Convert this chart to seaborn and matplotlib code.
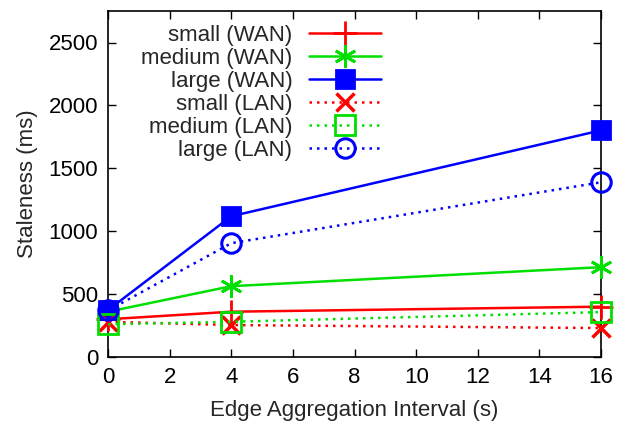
import numpy as np
import pandas as pd
import matplotlib
matplotlib.use("Agg")
import matplotlib.pyplot as plt
import seaborn as sns

# data
intervals = [0, 4, 16]
small_wan = [300, 360, 400]
medium_wan = [360, 563, 714]
large_wan = [373, 1119, 1802]
small_lan = [280, 254, 230]
medium_lan = [260, 280, 357]
large_lan = [370, 905, 1389]

labels = ["small (WAN)", "medium (WAN)", "large (WAN)",
          "small (LAN)", "medium (LAN)", "large (LAN)"]
values = [small_wan, medium_wan, large_wan, small_lan, medium_lan, large_lan]

sns.set_style("ticks")
plt.rcParams['font.family'] = ['Liberation Sans', 'DejaVu Sans']

red, green, blue = "#ff0000", "#00e000", "#0000ff"
dotted = (0, (1.0, 2.0))
styles = [
    dict(color=red, linestyle="-", marker="+", markersize=17, mew=2),
    dict(color=green, linestyle="-", marker=(6, 2, 0), markersize=16, mew=2),
    dict(color=blue, linestyle="-", marker="s", markersize=13, mew=2),
    dict(color=red, linestyle=dotted, marker="x", markersize=13, mew=2.5),
    dict(color=green, linestyle=dotted, marker="s", markersize=14, mew=2,
         markerfacecolor="none"),
    dict(color=blue, linestyle=dotted, marker="o", markersize=14, mew=2.2,
         markerfacecolor="none"),
]

fig = plt.figure(figsize=(6.21, 4.25), dpi=100)
ax = fig.add_axes([0.174, 0.16, 0.794, 0.814])

for lab, vals, st in zip(labels, values, styles):
    df = pd.DataFrame({"x": intervals, "y": vals})
    sns.lineplot(data=df, x="x", y="y", ax=ax, label=lab, linewidth=1.8,
                 markeredgecolor=st["color"], clip_on=False, zorder=3, **st)

ax.set_xlim(0, 16)
ax.set_ylim(0, 2750)
ax.set_xticks(np.arange(0, 17, 2))
ax.set_yticks(np.arange(0, 2501, 500))
ax.set_xlabel("Edge Aggregation Interval (s)", fontsize=16, labelpad=9)
ax.set_ylabel("Staleness (ms)", fontsize=16, labelpad=8)
ax.tick_params(direction="in", top=True, right=True, labelsize=16,
               length=6, width=1, colors="black", pad=7)
for s in ax.spines.values():
    s.set_visible(True)
    s.set_linewidth(1.2)
    s.set_color("black")

leg = ax.legend(loc="upper right", bbox_to_anchor=(0.572, 0.985), frameon=False,
                markerfirst=False, fontsize=16, handlelength=3.25,
                labelspacing=0.09, handletextpad=0.75, borderaxespad=0.0)
for t in leg.get_texts():
    t.set_ha("right")
leg._legend_box.align = "right"

fig.savefig("out.png", dpi=100)
